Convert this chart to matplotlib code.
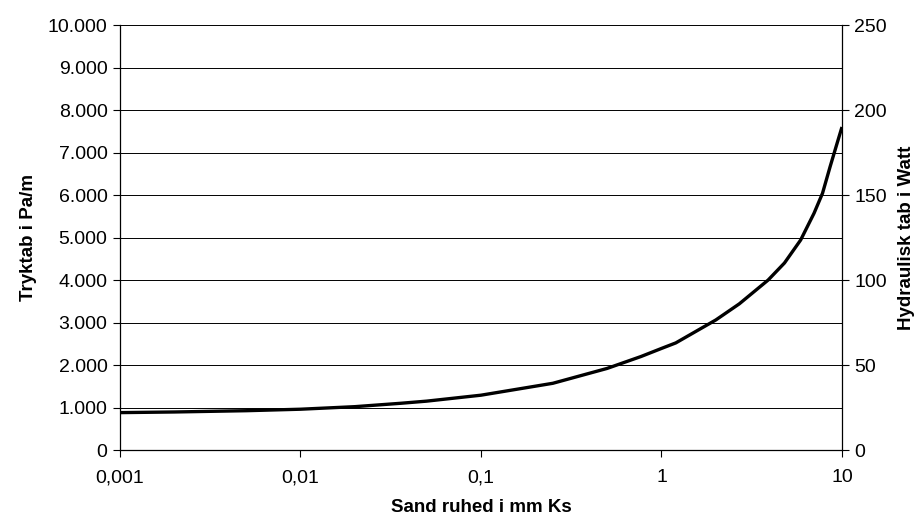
import matplotlib.pyplot as plt
from matplotlib.ticker import FixedLocator, FuncFormatter, NullLocator

plt.rcParams['font.family'] = ['Liberation Sans', 'DejaVu Sans']

# sand roughness Ks (mm) and pressure loss (Pa/m)
roughness = [0.001, 0.002, 0.005, 0.01, 0.02, 0.036, 0.05, 0.1, 0.25, 0.5,
             0.77, 1, 1.2, 2, 2.7, 3.9, 4.8, 5.9, 7, 7.8, 8.6, 9.4, 10]
pressure = [880, 895, 925, 960, 1020, 1100, 1150, 1290, 1570, 1920,
            2200, 2390, 2520, 3060, 3440, 4000, 4400, 4940, 5570, 6040,
            6670, 7220, 7600]

x_ticks = [0.001, 0.01, 0.1, 1, 10]
x_labels = ['0,001', '0,01', '0,1', '1', '10']
left_ticks = list(range(0, 10001, 1000))
right_ticks = [0, 50, 100, 150, 200, 250]

fig = plt.figure(figsize=(9.21, 5.22), dpi=100)
ax = fig.add_axes([0.1303, 0.1379, 0.9142 - 0.1303, 0.9521 - 0.1379])

ax.plot(roughness, pressure, color='black', lw=2.4,
        solid_joinstyle='round', solid_capstyle='butt')

ax.set_xscale('log')
ax.set_xlim(0.001, 10)
ax.set_ylim(0, 10000)
ax.xaxis.set_major_locator(FixedLocator(x_ticks))
ax.xaxis.set_minor_locator(NullLocator())
ax.set_xticklabels(x_labels)
ax.set_yticks(left_ticks)
ax.yaxis.set_major_formatter(FuncFormatter(lambda v, p: f'{int(v):,}'.replace(',', '.')))

ax.grid(axis='y', color='black', lw=0.7)
ax.set_axisbelow(True)
for s in ['top', 'right']:
    ax.spines[s].set_visible(False)
ax.spines['left'].set_linewidth(0.9)
ax.spines['bottom'].set_linewidth(0.9)
ax.tick_params(axis='both', labelsize=14, length=5, width=0.8, direction='out')
ax.tick_params(axis='x', pad=9)
ax.tick_params(axis='y', pad=4)

ax.set_ylabel('Tryktab i Pa/m', fontsize=13.5, fontweight='bold', labelpad=8)
ax.set_xlabel('Sand ruhed i mm Ks', fontsize=13.5, fontweight='bold', labelpad=9)

ax2 = ax.twinx()
ax2.set_ylim(0, 250)
ax2.set_yticks(right_ticks)
for s in ['top', 'left', 'bottom']:
    ax2.spines[s].set_visible(False)
ax2.spines['right'].set_linewidth(0.9)
ax2.tick_params(axis='y', labelsize=14, length=5, width=0.8, direction='out', pad=4)
ax2.set_ylabel('Hydraulisk tab i Watt', fontsize=13.5, fontweight='bold', labelpad=8)

fig.savefig('out.png', dpi=100)
